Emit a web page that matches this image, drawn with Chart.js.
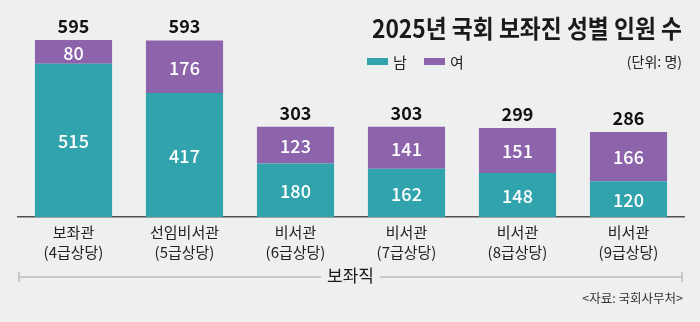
<!DOCTYPE html>
<html><head><meta charset="utf-8">
<script src="https://cdn.jsdelivr.net/npm/chart.js@4.4.0/dist/chart.umd.min.js"></script>
<style>html,body{margin:0;padding:0;background:#eeefef;}#wrap{width:700px;height:322px;position:relative;}</style>
</head><body><div id="wrap"><canvas id="c" width="700" height="322"></canvas></div>
<script>
const categories = [["보좌관","(4급상당)"],["선임비서관","(5급상당)"],["비서관","(6급상당)"],["비서관","(7급상당)"],["비서관","(8급상당)"],["비서관","(9급상당)"]];
const male = [515, 417, 180, 162, 148, 120];
const female = [80, 176, 123, 141, 151, 166];
const seriesNames = ["남", "여"];
const titleText = "2025년 국회 보좌진 성별 인원 수";
const unitText = "(단위: 명)";
const groupLabel = "보좌직";
const sourceText = "<자료: 국회사무처>";

const TEAL = '#31a3ad';
const PURPLE = '#8d64ac';
const BG = '#eeefef';
const FONT = '"Noto Sans CJK KR", "Noto Sans", sans-serif';

const drawPlugin = {
  id: 'custom',
  beforeDraw(chart) {
    const ctx = chart.ctx;
    ctx.save();
    ctx.fillStyle = BG;
    ctx.fillRect(0, 0, chart.width, chart.height);
    ctx.restore();
  },
  afterDatasetsDraw(chart) {
    const ctx = chart.ctx;
    ctx.save();
    ctx.textAlign = 'center';
    ctx.textBaseline = 'middle';
    // inner labels
    chart.data.datasets.forEach((ds, di) => {
      const meta = chart.getDatasetMeta(di);
      meta.data.forEach((el, i) => {
        ctx.fillStyle = '#ffffff';
        ctx.font = '500 18px ' + FONT;
        ctx.fillText(String(ds.data[i]), el.x, (el.y + el.base) / 2 + 1);
      });
    });
    // totals
    const yScale = chart.scales.y;
    const meta0 = chart.getDatasetMeta(0);
    male.forEach((m, i) => {
      const total = m + female[i];
      const y = yScale.getPixelForValue(total);
      ctx.fillStyle = '#111111';
      ctx.font = 'bold 18px ' + FONT;
      ctx.fillText(String(total), meta0.data[i].x, y - 14);
    });
    ctx.restore();
  },
  afterDraw(chart) {
    const ctx = chart.ctx;
    const area = chart.chartArea;
    ctx.save();
    // title (slightly condensed)
    ctx.font = 'bold 25px ' + FONT;
    ctx.fillStyle = '#1a1a1a';
    ctx.textAlign = 'right';
    ctx.textBaseline = 'alphabetic';
    const tw = ctx.measureText(titleText).width;
    const sx = Math.min(1, 310 / tw);
    ctx.save();
    ctx.translate(682, 38);
    ctx.scale(sx, 1);
    ctx.fillText(titleText, 0, 0);
    ctx.restore();
    // legend
    const colors = [TEAL, PURPLE];
    const lx = [367, 424];
    ctx.font = '15px ' + FONT;
    ctx.textAlign = 'left';
    ctx.textBaseline = 'middle';
    seriesNames.forEach((n, i) => {
      ctx.fillStyle = colors[i];
      ctx.fillRect(lx[i], 58, 21, 7);
      ctx.fillStyle = '#222';
      ctx.fillText(n, lx[i] + 26, 62);
    });
    // unit
    ctx.font = '14px ' + FONT;
    ctx.textAlign = 'right';
    ctx.fillStyle = '#222';
    ctx.fillText(unitText, 682, 62);
    // bracket
    const by = 277;
    ctx.strokeStyle = '#c8c8c8';
    ctx.lineWidth = 2;
    ctx.font = '17px ' + FONT;
    const gw = ctx.measureText(groupLabel).width;
    const cx = (18 + 683) / 2;
    ctx.beginPath();
    ctx.moveTo(18, by); ctx.lineTo(cx - gw / 2 - 6, by);
    ctx.moveTo(cx + gw / 2 + 6, by); ctx.lineTo(683, by);
    ctx.moveTo(19, by - 5); ctx.lineTo(19, by + 5);
    ctx.moveTo(682, by - 5); ctx.lineTo(682, by + 5);
    ctx.stroke();
    ctx.fillStyle = '#1a1a1a';
    ctx.textAlign = 'center';
    ctx.fillText(groupLabel, cx, by - 1);
    // source
    ctx.font = '12.5px ' + FONT;
    ctx.textAlign = 'right';
    ctx.fillStyle = '#333';
    ctx.fillText(sourceText, 683, 298);
    ctx.restore();
  }
};

new Chart(document.getElementById('c'), {
  type: 'bar',
  data: {
    labels: categories,
    datasets: [
      { label: seriesNames[0], data: male, backgroundColor: TEAL, borderWidth: 0 },
      { label: seriesNames[1], data: female, backgroundColor: PURPLE, borderWidth: 0 }
    ]
  },
  options: {
    responsive: false,
    animation: false,
    devicePixelRatio: 1,
    layout: { padding: { top: 40, left: 18, right: 16, bottom: 0 } },
    plugins: { legend: { display: false }, title: { display: false }, tooltip: { enabled: false } },
    datasets: { bar: { barPercentage: 0.695, categoryPercentage: 1 } },
    scales: {
      x: {
        stacked: true,
        grid: { display: false, drawTicks: false },
        border: { display: true, color: '#505050', width: 1.5 },
        ticks: { color: '#222', font: { family: FONT, size: 15, lineHeight: 1.3 }, padding: 6, maxRotation: 0, autoSkip: false },
        afterFit(scale) { scale.height = 105; }
      },
      y: {
        stacked: true, display: false, min: 0, max: 595
      }
    }
  },
  plugins: [drawPlugin]
});
</script></body></html>
